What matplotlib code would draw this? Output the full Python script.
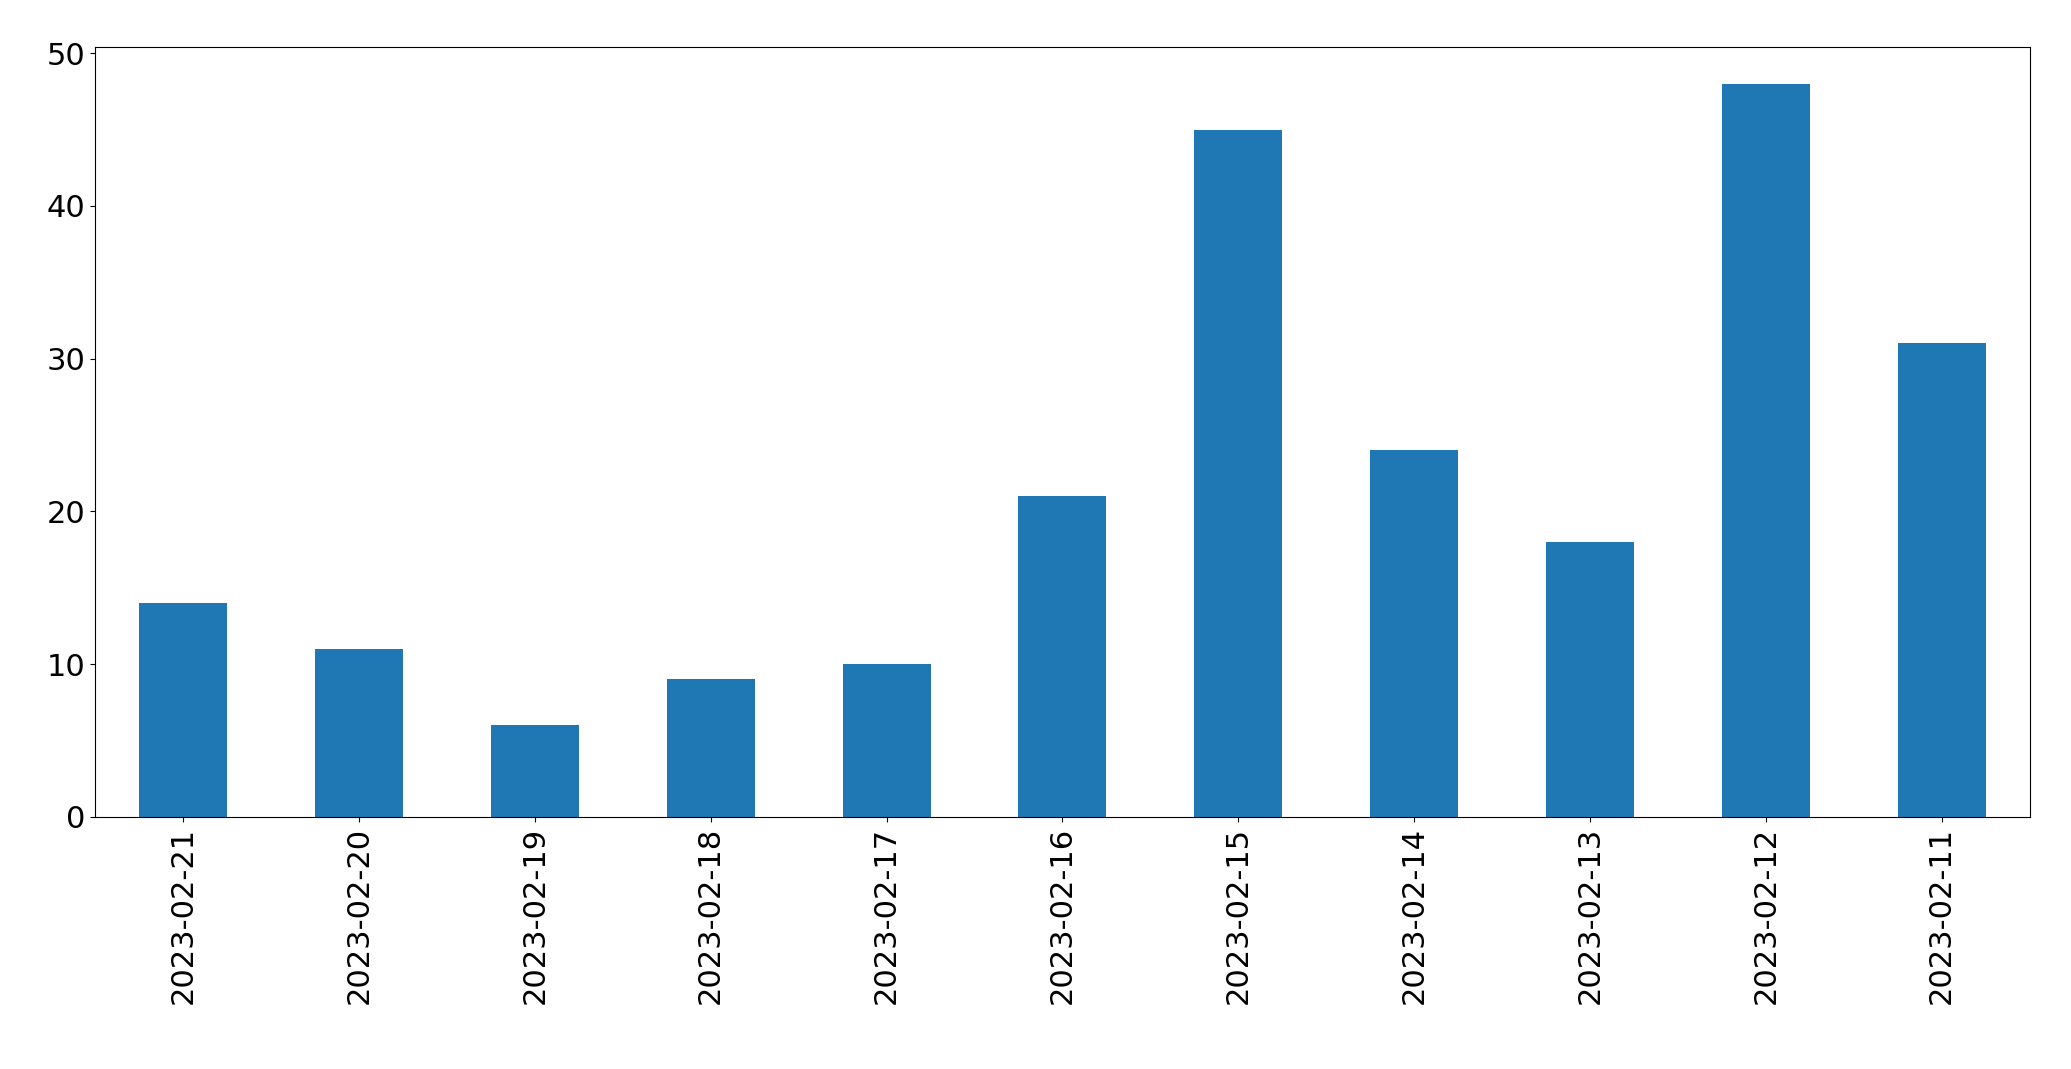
import matplotlib
matplotlib.use("Agg")
import matplotlib.pyplot as plt

dates = ["2023-02-21","2023-02-20","2023-02-19","2023-02-18","2023-02-17","2023-02-16",
         "2023-02-15","2023-02-14","2023-02-13","2023-02-12","2023-02-11"]
counts = [14, 11, 6, 9, 10, 21, 45, 24, 18, 48, 31]

fig = plt.figure(figsize=(20.71, 10.69), dpi=100)
ax = fig.add_axes([0.046, 0.236, 0.934, 0.72])
x = range(len(dates))
ax.bar(x, counts, width=0.5, color="#1f77b4")
ax.set_xlim(-0.5, len(dates) - 0.5)
ax.set_ylim(0, 50.4)
ax.set_xticks(list(x))
ax.set_xticklabels(dates, rotation=90)
ax.tick_params(labelsize=22)
fig.savefig("out.png", dpi=100)
